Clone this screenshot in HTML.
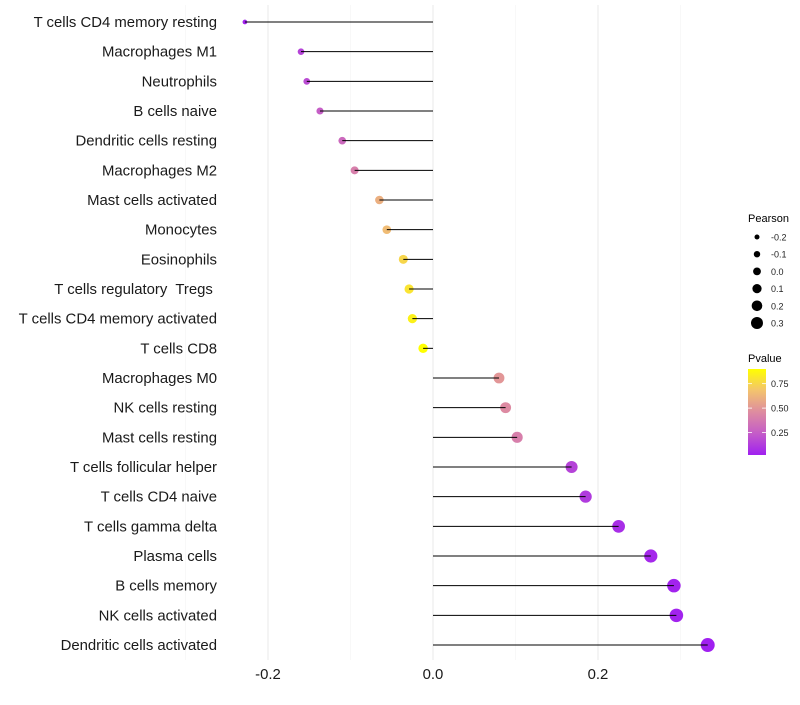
<!DOCTYPE html>
<html><head><meta charset="utf-8"><style>
body{margin:0;background:#fff;font-family:"Liberation Sans",sans-serif}
svg text{font-family:"Liberation Sans",sans-serif;white-space:pre}
</style></head><body>
<svg id="c" width="800" height="700"></svg>
<script>
const categories=["T cells CD4 memory resting","Macrophages M1","Neutrophils","B cells naive","Dendritic cells resting","Macrophages M2","Mast cells activated","Monocytes","Eosinophils","T cells regulatory  Tregs ","T cells CD4 memory activated","T cells CD8","Macrophages M0","NK cells resting","Mast cells resting","T cells follicular helper","T cells CD4 naive","T cells gamma delta","Plasma cells","B cells memory","NK cells activated","Dendritic cells activated"];
const pearson=[-0.228,-0.160,-0.153,-0.137,-0.110,-0.095,-0.065,-0.056,-0.036,-0.029,-0.025,-0.012,0.080,0.088,0.102,0.168,0.185,0.225,0.264,0.292,0.295,0.333];
const pvalue=[0.03,0.15,0.18,0.25,0.3,0.4,0.6,0.65,0.75,0.8,0.85,0.9,0.5,0.45,0.4,0.15,0.12,0.07,0.05,0.03,0.03,0.02];
const xTicks=[-0.2,0,0.2];
const xTickLabels=["-0.2","0.0","0.2"];
const sizeLegend=[-0.2,-0.1,0.0,0.1,0.2,0.3];
const sizeLegendLabels=["-0.2","-0.1","0.0","0.1","0.2","0.3"];
const pTicks=[0.25,0.5,0.75];
const pTickLabels=["0.25","0.50","0.75"];
const NS="http://www.w3.org/2000/svg";
const svg=document.getElementById('c');
function mk(t,a,p){const e=document.createElementNS(NS,t);for(const k in a)e.setAttribute(k,a[k]);(p||svg).appendChild(e);return e;}
const x=v=>433+v*825;
const y=i=>22+i*29.667;
const r=v=>Math.sqrt(Math.max(2.9,10.9+77*(v+0.16)));
const pMin=0.02,pMax=0.9;
const stops=[[160,32,240],[196,92,200],[222,140,160],[243,195,110],[255,255,0]];
function col(p){let t=Math.max(0,Math.min(1,(p-pMin)/(pMax-pMin)))*4;let i=Math.min(3,Math.floor(t)),f=t-i;const a=stops[i],b=stops[i+1];return `rgb(${a.map((c,k)=>Math.round(c+(b[k]-c)*f)).join(',')})`;}
[-0.3,-0.1,0.1,0.3].forEach(v=>{const g=mk('line',{x1:x(v),x2:x(v),y1:5,y2:660,stroke:'#f3f3f3','stroke-width':0.6});});
xTicks.forEach((v,i)=>{const g=mk('line',{x1:x(v),x2:x(v),y1:5,y2:660,stroke:'#ebebeb','stroke-width':1.1});
const t=mk('text',{x:x(v),y:679,'text-anchor':'middle','font-size':14.9,fill:'#1a1a1a'});t.textContent=xTickLabels[i];});
categories.forEach((c,i)=>{
const d=mk('circle',{cx:x(pearson[i]),cy:y(i),r:r(pearson[i]),fill:col(pvalue[i])});

const l=mk('line',{x1:x(0),x2:x(pearson[i]),y1:y(i),y2:y(i),stroke:'#000','stroke-width':1});

const t=mk('text',{x:217,y:y(i)+5,'text-anchor':'end','font-size':14.9,fill:'#1a1a1a','xml:space':'preserve'});t.textContent=c;

});
const lt=mk('text',{x:748,y:222,'font-size':11,fill:'#000'});lt.textContent='Pearson';
sizeLegend.forEach((v,i)=>{const cy=237+i*17.2;const c=mk('circle',{cx:757,cy:cy,r:2.5+i*0.7,fill:'#000'});
const t=mk('text',{x:771,y:cy+3.5,'font-size':9,fill:'#222'});t.textContent=sizeLegendLabels[i];});
const ct=mk('text',{x:748,y:362,'font-size':11,fill:'#000'});ct.textContent='Pvalue';
const defs=mk('defs',{});const gr=mk('linearGradient',{id:'pg',x1:0,y1:1,x2:0,y2:0},defs);
stops.forEach((s,i)=>mk('stop',{offset:i/4,'stop-color':`rgb(${s.join(',')})`},gr));
const by=(p)=>455-(p-pMin)/(pMax-pMin)*86;
const bar=mk('rect',{x:748,y:369,width:18,height:86,fill:'url(#pg)'});
pTicks.forEach((p,i)=>{mk('line',{x1:748,x2:752,y1:by(p),y2:by(p),stroke:'#fff','stroke-width':0.8});mk('line',{x1:762,x2:766,y1:by(p),y2:by(p),stroke:'#fff','stroke-width':0.8});
const t=mk('text',{x:771,y:by(p)+3.5,'font-size':9,fill:'#222'});t.textContent=pTickLabels[i];});
</script>
</body></html>
